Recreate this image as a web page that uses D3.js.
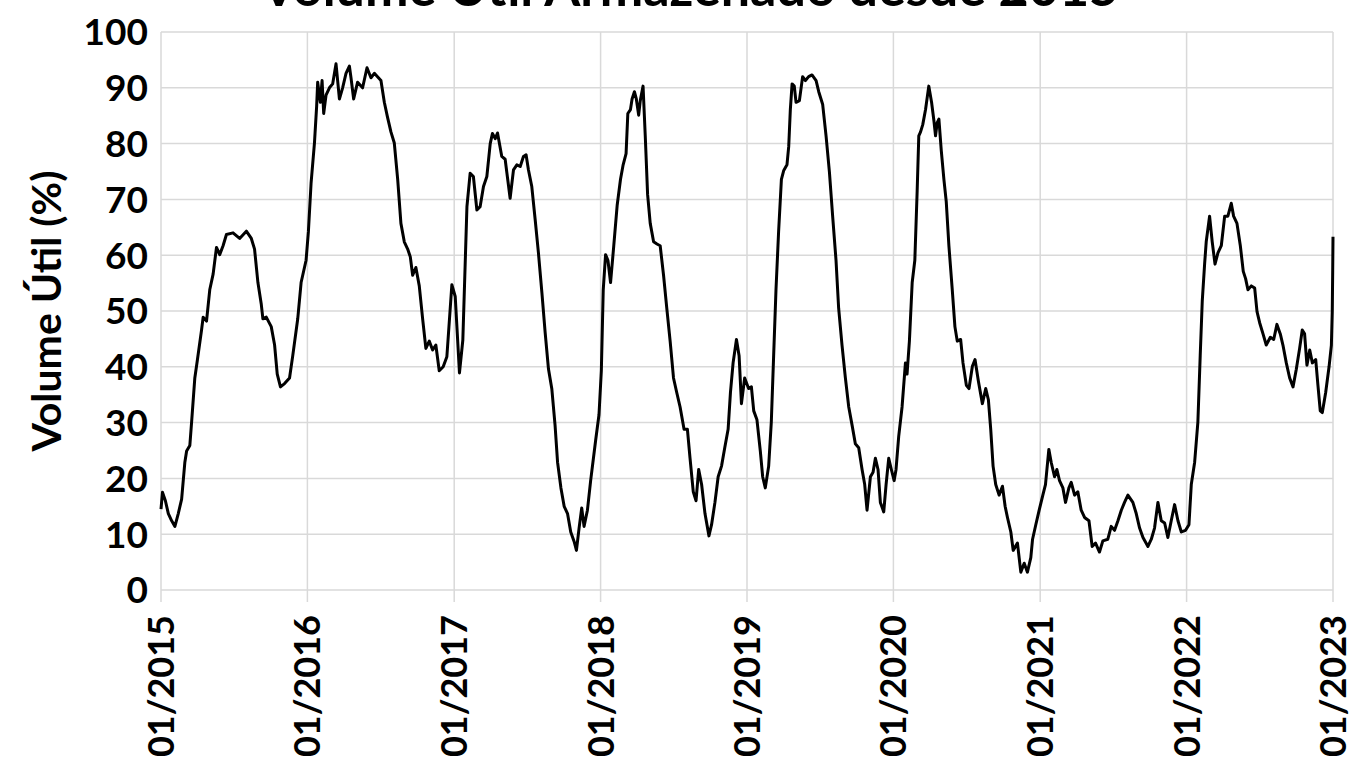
<!DOCTYPE html>
<html>
<head>
<meta charset="utf-8">
<script src="https://cdn.jsdelivr.net/npm/d3@7"></script>
<style>
  body { margin: 0; background: #fff; }
  svg { display: block; font-family: Lato, "Open Sans", sans-serif; font-weight: 700; }
</style>
</head>
<body>
<svg width="1350" height="766"></svg>
<script>
const title = "Volume Útil Armazenado desde 2015"
const yLabel = "Volume Útil (%)"
const yTicks = [0, 10, 20, 30, 40, 50, 60, 70, 80, 90, 100]
const xTickYears = [2015, 2016, 2017, 2018, 2019, 2020, 2021, 2022, 2023]

// time as decimal year
const years = [
    2015.000, 2015.010, 2015.030, 2015.050, 2015.073, 2015.095, 2015.118, 2015.141, 2015.163, 2015.175,
    2015.197, 2015.209, 2015.231, 2015.249, 2015.277, 2015.288, 2015.311, 2015.333, 2015.356, 2015.379,
    2015.401, 2015.424, 2015.447, 2015.492, 2015.537, 2015.583, 2015.617, 2015.639, 2015.662, 2015.685,
    2015.696, 2015.719, 2015.753, 2015.776, 2015.794, 2015.816, 2015.844, 2015.878, 2015.900, 2015.934,
    2015.957, 2015.991, 2016.007, 2016.025, 2016.048, 2016.063, 2016.070, 2016.088, 2016.100, 2016.111,
    2016.127, 2016.150, 2016.172, 2016.195, 2016.218, 2016.240, 2016.263, 2016.286, 2016.297, 2016.315,
    2016.342, 2016.376, 2016.406, 2016.433, 2016.456, 2016.501, 2016.524, 2016.546, 2016.569, 2016.592,
    2016.615, 2016.637, 2016.660, 2016.683, 2016.701, 2016.717, 2016.739, 2016.762, 2016.785, 2016.807,
    2016.830, 2016.853, 2016.875, 2016.898, 2016.925, 2016.950, 2016.984, 2017.007, 2017.036, 2017.059,
    2017.087, 2017.109, 2017.131, 2017.155, 2017.177, 2017.200, 2017.223, 2017.246, 2017.261, 2017.280,
    2017.296, 2017.325, 2017.348, 2017.382, 2017.405, 2017.428, 2017.451, 2017.473, 2017.491, 2017.507,
    2017.530, 2017.553, 2017.575, 2017.599, 2017.621, 2017.644, 2017.667, 2017.689, 2017.706, 2017.729,
    2017.751, 2017.774, 2017.796, 2017.819, 2017.835, 2017.853, 2017.871, 2017.887, 2017.910, 2017.932,
    2017.966, 2017.989, 2018.005, 2018.018, 2018.034, 2018.050, 2018.068, 2018.090, 2018.113, 2018.136,
    2018.154, 2018.174, 2018.186, 2018.204, 2018.215, 2018.231, 2018.244, 2018.260, 2018.271, 2018.290,
    2018.305, 2018.321, 2018.339, 2018.362, 2018.385, 2018.407, 2018.430, 2018.452, 2018.475, 2018.498,
    2018.520, 2018.543, 2018.570, 2018.593, 2018.611, 2018.633, 2018.652, 2018.670, 2018.690, 2018.713,
    2018.740, 2018.758, 2018.781, 2018.803, 2018.826, 2018.848, 2018.871, 2018.887, 2018.905, 2018.928,
    2018.946, 2018.962, 2018.984, 2019.011, 2019.030, 2019.046, 2019.068, 2019.091, 2019.107, 2019.125,
    2019.148, 2019.166, 2019.182, 2019.198, 2019.216, 2019.235, 2019.251, 2019.273, 2019.285, 2019.296,
    2019.308, 2019.323, 2019.335, 2019.358, 2019.380, 2019.399, 2019.421, 2019.444, 2019.472, 2019.490,
    2019.517, 2019.540, 2019.563, 2019.585, 2019.608, 2019.626, 2019.649, 2019.672, 2019.695, 2019.718,
    2019.740, 2019.763, 2019.786, 2019.804, 2019.820, 2019.843, 2019.861, 2019.877, 2019.895, 2019.911,
    2019.934, 2019.950, 2019.968, 2019.986, 2020.005, 2020.018, 2020.036, 2020.059, 2020.082, 2020.093,
    2020.109, 2020.128, 2020.146, 2020.162, 2020.173, 2020.185, 2020.200, 2020.219, 2020.241, 2020.260,
    2020.276, 2020.287, 2020.298, 2020.310, 2020.326, 2020.344, 2020.360, 2020.378, 2020.401, 2020.419,
    2020.435, 2020.458, 2020.474, 2020.497, 2020.515, 2020.538, 2020.556, 2020.579, 2020.606, 2020.629,
    2020.647, 2020.663, 2020.679, 2020.697, 2020.720, 2020.743, 2020.761, 2020.777, 2020.800, 2020.816,
    2020.845, 2020.868, 2020.891, 2020.913, 2020.936, 2020.948, 2020.970, 2020.993, 2021.018, 2021.036,
    2021.059, 2021.075, 2021.098, 2021.114, 2021.132, 2021.155, 2021.173, 2021.196, 2021.212, 2021.235,
    2021.257, 2021.280, 2021.303, 2021.333, 2021.355, 2021.378, 2021.405, 2021.428, 2021.462, 2021.485,
    2021.508, 2021.531, 2021.554, 2021.576, 2021.599, 2021.633, 2021.656, 2021.679, 2021.702, 2021.736,
    2021.759, 2021.781, 2021.804, 2021.827, 2021.850, 2021.872, 2021.895, 2021.918, 2021.941, 2021.964,
    2021.993, 2022.016, 2022.032, 2022.055, 2022.077, 2022.093, 2022.107, 2022.123, 2022.134, 2022.157,
    2022.175, 2022.194, 2022.214, 2022.237, 2022.260, 2022.282, 2022.305, 2022.321, 2022.344, 2022.367,
    2022.387, 2022.403, 2022.419, 2022.442, 2022.465, 2022.481, 2022.499, 2022.522, 2022.544, 2022.572,
    2022.595, 2022.617, 2022.640, 2022.658, 2022.681, 2022.704, 2022.727, 2022.749, 2022.772, 2022.790,
    2022.806, 2022.822, 2022.841, 2022.859, 2022.882, 2022.897, 2022.913, 2022.927, 2022.950, 2022.973,
    2022.989, 2022.995, 2022.998, 2023.000
]

const volume = [
    14.5, 17.5, 16.0, 13.7, 12.4, 11.4, 13.7, 16.3, 22.9, 24.9,
    25.9, 30.1, 38.0, 41.3, 46.6, 48.9, 48.2, 53.8, 56.6, 61.4,
    60.1, 61.7, 63.7, 64.0, 63.0, 64.3, 63.0, 61.1, 55.1, 51.2,
    48.6, 48.9, 47.2, 43.9, 38.7, 36.4, 37.0, 38.0, 42.0, 48.6,
    55.1, 59.1, 64.3, 72.9, 80.1, 86.7, 91.0, 87.4, 91.3, 85.4,
    88.7, 90.0, 90.7, 94.3, 88.0, 90.0, 92.6, 93.9, 91.8, 88.0,
    91.0, 90.0, 93.6, 91.8, 92.6, 91.3, 87.4, 84.7, 82.1, 80.1,
    73.6, 65.7, 62.4, 61.1, 59.7, 56.4, 57.8, 54.5, 48.6, 43.3,
    44.6, 43.0, 43.9, 39.3, 40.0, 41.8, 54.7, 52.6, 38.9, 44.8,
    68.7, 74.7, 74.1, 68.1, 68.7, 72.3, 74.1, 80.0, 81.8, 80.9,
    81.9, 77.7, 77.2, 70.2, 75.3, 76.2, 75.9, 77.7, 78.0, 75.3,
    72.3, 66.4, 60.5, 53.3, 46.2, 39.6, 36.0, 29.5, 22.9, 18.3,
    15.0, 13.7, 10.4, 8.7, 7.1, 11.1, 14.7, 11.4, 14.3, 19.6,
    26.8, 31.4, 39.3, 53.8, 60.1, 59.1, 55.1, 61.7, 68.9, 73.6,
    76.2, 78.2, 85.4, 86.1, 88.0, 89.3, 88.0, 85.1, 87.7, 90.3,
    81.4, 70.9, 65.7, 62.4, 62.0, 61.7, 56.4, 50.5, 44.6, 38.0,
    35.4, 32.8, 28.8, 28.8, 23.6, 17.6, 16.0, 21.6, 18.9, 13.7,
    9.7, 11.7, 15.7, 20.3, 22.2, 25.5, 28.8, 35.4, 40.7, 44.9,
    42.0, 33.4, 38.0, 36.1, 36.4, 32.1, 30.5, 24.9, 20.3, 18.3,
    22.2, 30.1, 42.0, 53.8, 64.3, 73.6, 75.2, 76.2, 79.5, 86.1,
    90.7, 90.3, 87.4, 87.7, 92.0, 91.3, 92.0, 92.3, 91.3, 89.3,
    87.0, 81.4, 74.9, 67.0, 59.1, 50.5, 43.9, 38.0, 32.8, 29.5,
    26.2, 25.5, 21.6, 18.9, 14.3, 20.3, 21.1, 23.6, 21.6, 15.7,
    14.0, 18.9, 23.6, 21.6, 19.6, 21.6, 27.5, 32.8, 40.7, 38.7,
    44.6, 55.1, 59.1, 71.6, 81.4, 82.1, 83.4, 86.1, 90.3, 87.4,
    84.1, 81.4, 83.7, 84.4, 78.8, 73.6, 69.6, 61.7, 53.8, 47.2,
    44.6, 44.9, 40.7, 36.7, 36.1, 40.1, 41.3, 37.4, 33.4, 36.1,
    34.1, 28.8, 22.2, 18.9, 17.0, 18.6, 15.0, 13.0, 10.4, 7.1,
    8.4, 3.2, 4.8, 3.2, 5.8, 9.1, 11.7, 14.3, 17.0, 18.9,
    25.2, 22.9, 20.3, 21.6, 19.6, 18.3, 15.7, 18.3, 19.3, 17.0,
    17.6, 14.3, 13.0, 12.4, 7.8, 8.4, 6.8, 8.8, 9.1, 11.4,
    10.7, 12.4, 14.3, 15.7, 17.0, 15.7, 13.7, 11.1, 9.4, 7.8,
    9.1, 11.1, 15.7, 12.4, 12.0, 9.4, 12.4, 15.3, 12.4, 10.4,
    10.7, 11.7, 18.9, 22.9, 30.1, 42.0, 51.8, 58.4, 62.4, 67.0,
    62.4, 58.4, 60.4, 61.7, 67.0, 67.0, 69.3, 67.0, 65.7, 61.7,
    57.1, 55.8, 53.8, 54.5, 54.1, 49.9, 47.9, 45.9, 43.9, 45.3,
    44.9, 47.6, 45.9, 43.9, 40.7, 38.0, 36.4, 39.5, 43.3, 46.6,
    45.9, 40.3, 43.0, 40.7, 41.3, 36.7, 32.1, 31.8, 35.4, 40.0,
    43.9, 50.0, 57.3, 63.3
]

function toDate(y) {
    const yr = Math.floor(y)
    const start = new Date(yr, 0, 1)
    const end = new Date(yr + 1, 0, 1)
    return new Date(+start + (y - yr) * (end - start))
}

const data = years.map((y, i) => ({ date: toDate(y), value: volume[i] }))

const plotLeft = 161, plotRight = 1333, plotTop = 32, plotBottom = 590

const x = d3.scaleTime()
    .domain([new Date(2015, 0, 1), new Date(2023, 0, 1)])
    .range([plotLeft, plotRight])

const y = d3.scaleLinear()
    .domain([0, 100])
    .range([plotBottom, plotTop])

const svg = d3.select("svg")

// horizontal grid
svg.append("g")
    .selectAll("line")
    .data(yTicks)
    .enter()
    .append("line")
    .attr("x1", plotLeft)
    .attr("x2", plotRight)
    .attr("y1", d => y(d))
    .attr("y2", d => y(d))
    .style("stroke", "#d9d9d9")
    .style("stroke-width", 1.5)

// vertical grid (runs a bit below the 0 line like tick marks)
svg.append("g")
    .selectAll("line")
    .data(xTickYears)
    .enter()
    .append("line")
    .attr("x1", d => x(new Date(d, 0, 1)))
    .attr("x2", d => x(new Date(d, 0, 1)))
    .attr("y1", plotTop)
    .attr("y2", plotBottom + 12)
    .style("stroke", "#d9d9d9")
    .style("stroke-width", 1.5)

// y tick labels
svg.append("g")
    .selectAll("text")
    .data(yTicks)
    .enter()
    .append("text")
    .attr("x", plotLeft - 13)
    .attr("y", d => y(d))
    .attr("dy", "0.36em")
    .style("text-anchor", "end")
    .style("font-size", "37px")
    .text(d => d)

// x tick labels, rotated
const fmt = d3.timeFormat("%m/%Y")
svg.append("g")
    .selectAll("text")
    .data(xTickYears)
    .enter()
    .append("text")
    .attr("transform", d => `translate(${x(new Date(d, 0, 1))},${plotBottom + 25}) rotate(-90)`)
    .attr("dy", "0.36em")
    .style("text-anchor", "end")
    .style("font-size", "36px")
    .text(d => fmt(new Date(d, 0, 1)))

// y axis label
svg.append("text")
    .attr("transform", `translate(46,${(plotTop + plotBottom) / 2}) rotate(-90)`)
    .attr("dy", "0.36em")
    .style("text-anchor", "middle")
    .style("font-size", "41px")
    .text(yLabel)

// title, mostly cut off at the top
svg.append("text")
    .attr("x", 690)
    .attr("y", 6)
    .style("text-anchor", "middle")
    .style("font-size", "52px")
    .text(title)

// the series
const line = d3.line()
    .x(d => x(d.date))
    .y(d => y(d.value))

svg.append("path")
    .datum(data)
    .attr("d", line)
    .style("fill", "none")
    .style("stroke", "#000")
    .style("stroke-width", 3)
    .style("stroke-linejoin", "round")
</script>
</body>
</html>
